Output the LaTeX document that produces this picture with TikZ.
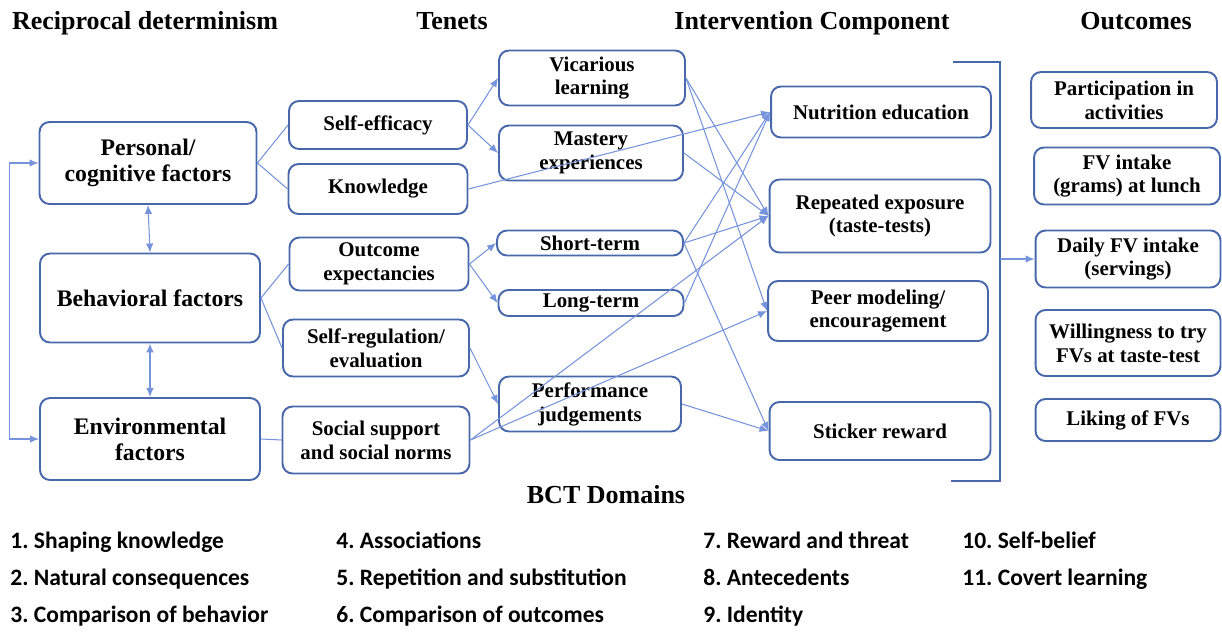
\documentclass[tikz,border=0pt]{standalone}
\usepackage{fontspec}
\setmainfont{Liberation Serif}
\newfontfamily\bctfont{Carlito}
\usetikzlibrary{arrows.meta}
\definecolor{boxblue}{RGB}{72,104,172}
\definecolor{linkblue}{RGB}{118,148,220}
\tikzset{
	box/.style={draw=boxblue, line width=1.1pt, rounded corners=0.2cm, align=center, inner sep=0pt, font=\bfseries\fontsize{11.9}{13.6}\selectfont},
	bigbox/.style={box, font=\bfseries\fontsize{13.5}{14.8}\selectfont},
	head/.style={anchor=base, inner sep=0pt, font=\bfseries\fontsize{14.8}{17}\selectfont},
	bct/.style={anchor=base west, inner sep=0pt, font=\bctfont\bfseries\frenchspacing\fontsize{13.4}{15}\selectfont},
	link/.style={draw=linkblue, line width=0.6pt},
	arr/.style={link, -{Latex[length=1.8mm,width=1.5mm]}},
	darr/.style={link, {Latex[length=1.8mm,width=1.5mm]}-{Latex[length=1.8mm,width=1.5mm]}},
}

\begin{document}
\begin{tikzpicture}[x=0.02cm, y=-0.02cm]
		%%%%% START %%%%%
		\useasboundingbox (0,0) rectangle (1222,632);
		
		\node[head] (hrecip) at (145,30) {Reciprocal determinism};
		\node[head] (htenet) at (452,30) {Tenets};
		\node[head] (hinter) at (812,30) {Intervention Component};
		\node[head] (houtc) at (1136,30) {Outcomes};
		
		% reciprocal determinism
		\node[bigbox, minimum width=4.34cm, minimum height=1.64cm] (pers) at (148,163) {Personal/\\cognitive factors};
		\node[bigbox, minimum width=4.4cm, minimum height=1.78cm] (behav) at (150,298) {Behavioral factors};
		\node[bigbox, minimum width=4.4cm, minimum height=1.64cm] (envir) at (150,439) {Environmental\\factors};
		
		\node[box, minimum width=3.56cm, minimum height=0.96cm] (selfeff) at (378,125) {Self-efficacy};
		\node[box, minimum width=3.58cm, minimum height=1.0cm] (know) at (378,189) {Knowledge};
		\node[box, minimum width=3.58cm, minimum height=1.06cm] (outexp) at (379,264) {Outcome\\expectancies};
		\node[box, minimum width=3.72cm, minimum height=1.14cm] (selfreg) at (376,348) {Self-regulation/\\evaluation};
		\node[box, minimum width=3.74cm, minimum height=1.34cm] (socsup) at (376,440) {Social support\\and social norms};
		
		% tenets
		\node[box, minimum width=3.72cm, minimum height=1.1cm] (vicar) at (592,78) {Vicarious\\learning};
		\node[box, minimum width=3.68cm, minimum height=1.1cm] (mastery) at (591,153) {Mastery\\experiences};
		\node[box, minimum width=3.72cm, minimum height=0.5cm] (short) at (590,243) {Short-term};
		\node[box, minimum width=3.7cm, minimum height=0.52cm] (long) at (591,303) {Long-term};
		\node[box, minimum width=3.64cm, minimum height=1.1cm] (perf) at (590,404) {Performance\\judgements};
		
		% intervention
		\node[box, minimum width=4.4cm, minimum height=1.02cm] (nutri) at (881,112) {Nutrition education};
		\node[box, minimum width=4.42cm, minimum height=1.46cm] (repexp) at (880,216) {Repeated exposure\\(taste-tests)};
		\node[box, minimum width=4.4cm, minimum height=1.2cm] (peer) at (878,311) {Peer modeling/\\encouragement};
		\node[box, minimum width=4.42cm, minimum height=1.16cm] (sticker) at (880,431) {Sticker reward};
		
		% outcomes
		\node[box, minimum width=3.72cm, minimum height=1.12cm] (partic) at (1124,100) {Participation in\\activities};
		\node[box, minimum width=3.72cm, minimum height=1.14cm] (fvlunch) at (1127,176) {FV intake\\(grams) at lunch};
		\node[box, minimum width=3.7cm, minimum height=1.14cm] (daily) at (1128,259) {Daily FV intake\\(servings)};
		\node[box, minimum width=3.7cm, minimum height=1.32cm] (willing) at (1128,343) {Willingness to try\\FVs at taste-test};
		\node[box, minimum width=3.7cm, minimum height=0.84cm] (liking) at (1128,420) {Liking of FVs};
		
		% reciprocal links
		\draw[darr] (pers.south) -- (behav.north);
		\draw[darr] (behav.south) -- (envir.north);
		\draw[darr] (envir.west) -- ++(-30,0) |- (pers.west);
		
		\draw[link] (pers.east) -- (selfeff.west);
		\draw[link] (pers.east) -- (know.west);
		\draw[link] (behav.east) -- (outexp.west);
		\draw[link] (behav.east) -- (selfreg.west);
		\draw[link] (envir.east) -- (socsup.west);
		
		\draw[arr] (selfeff.east) -- (vicar.west);
		\draw[arr] (selfeff.east) -- (mastery.west);
		\draw[arr] (outexp.east) -- (short.west);
		\draw[arr] (outexp.east) -- (long.west);
		\draw[arr] (selfreg.east) -- (perf.west);
		
		% into the intervention
		\draw[arr] (know.east) -- (nutri.west);
		\draw[arr] (short.east) -- (nutri.west);
		\draw[arr] (long.east) -- (nutri.west);
		\draw[arr] (vicar.east) -- (repexp.west);
		\draw[arr] (mastery.east) -- (repexp.west);
		\draw[arr] (short.east) -- (repexp.west);
		\draw[arr] (socsup.east) -- (repexp.west);
		\draw[arr] (vicar.east) -- (peer.west);
		\draw[arr] (socsup.east) -- (peer.west);
		\draw[arr] (short.east) -- (sticker.west);
		\draw[arr] (perf.east) -- (sticker.west);
		
		% bracket
		\coordinate (brtop) at (1000,62);
		\coordinate (brbot) at (1000,481);
		\coordinate (brmid) at (1000,259);
		\draw[draw=boxblue, line width=0.9pt] (953,62) -- (brtop) -- (brbot) -- (951,481);
		\draw[arr] (brmid) -- (daily.west);
		
		% BCT domains
		\node[head] (hbct) at (606,503) {BCT Domains};
		\node[bct] (bct1) at (10,548) {1. Shaping knowledge};
		\node[bct] (bct2) at (10,585) {2. Natural consequences};
		\node[bct] (bct3) at (10,622) {3. Comparison of behavior};
		\node[bct] (bct4) at (336,548) {4. Associations};
		\node[bct] (bct5) at (336,585) {5. Repetition and substitution};
		\node[bct] (bct6) at (336,622) {6. Comparison of outcomes};
		\node[bct] (bct7) at (703,548) {7. Reward and threat};
		\node[bct] (bct8) at (703,585) {8. Antecedents};
		\node[bct] (bct9) at (703,622) {9. Identity};
		\node[bct] (bct10) at (962,548) {10. Self-belief};
		\node[bct] (bct11) at (962,585) {11. Covert learning};
		
		%%%%% END %%%%%
	\end{tikzpicture}
\end{document}
